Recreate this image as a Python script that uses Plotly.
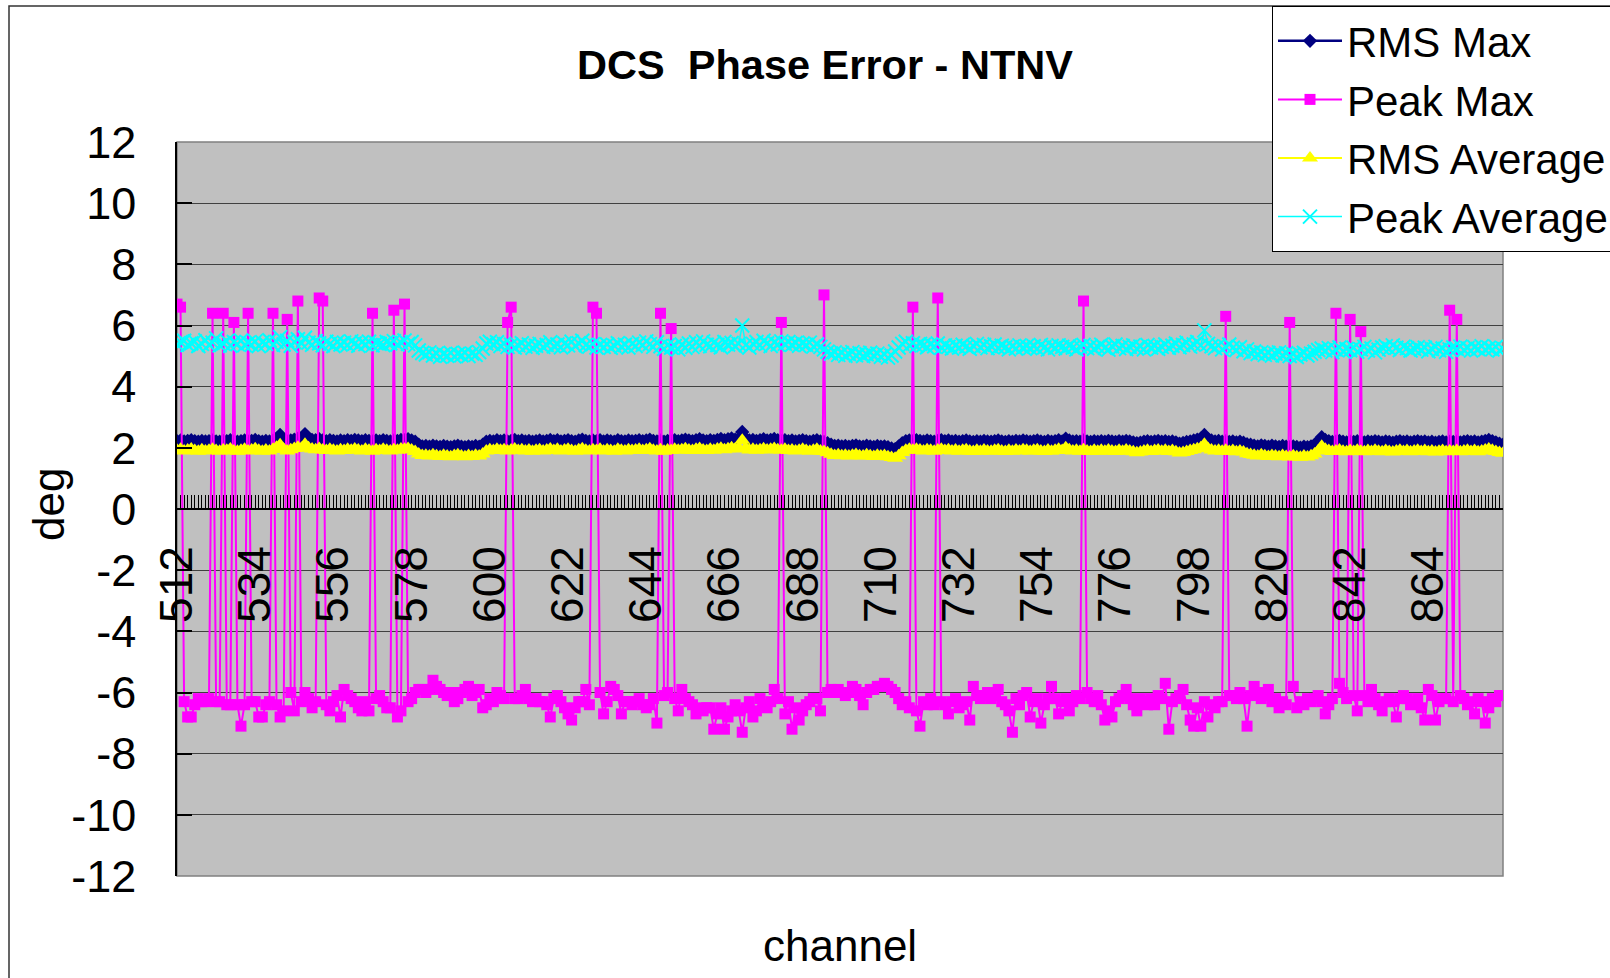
import plotly.graph_objects as go

# ---------------- data ----------------
channels = list(range(512, 886))

rms_max = [
    2.22, 2.24, 2.21, 2.23, 2.25, 2.22, 2.20, 2.23, 2.21, 2.22,
    2.24, 2.21, 2.20, 2.23, 2.22, 2.25, 2.21, 2.20, 2.22, 2.24,
    2.21, 2.23, 2.26, 2.22, 2.20, 2.23, 2.21, 2.24, 2.30, 2.42,
    2.25, 2.21, 2.24, 2.27, 2.30, 2.28, 2.45, 2.30, 2.26, 2.25,
    2.28, 2.24, 2.22, 2.25, 2.23, 2.21, 2.24, 2.22, 2.25, 2.23,
    2.26, 2.24, 2.22, 2.25, 2.23, 2.21, 2.24, 2.22, 2.25, 2.23,
    2.21, 2.24, 2.23, 2.26, 2.25, 2.28, 2.24, 2.20, 2.10, 2.05,
    2.06, 2.04, 2.07, 2.05, 2.03, 2.06, 2.04, 2.02, 2.05, 2.07,
    2.04, 2.02, 2.05, 2.03, 2.06, 2.04, 2.10, 2.20, 2.23, 2.21,
    2.25, 2.22, 2.24, 2.21, 2.23, 2.26, 2.22, 2.24, 2.21, 2.23,
    2.20, 2.22, 2.24, 2.21, 2.23, 2.26, 2.22, 2.25, 2.21, 2.23,
    2.25, 2.22, 2.20, 2.24, 2.27, 2.23, 2.21, 2.24, 2.22, 2.25,
    2.21, 2.24, 2.22, 2.20, 2.25, 2.22, 2.21, 2.24, 2.22, 2.23,
    2.25, 2.22, 2.24, 2.27, 2.23, 2.21, 2.24, 2.20, 2.23, 2.22,
    2.25, 2.22, 2.24, 2.27, 2.24, 2.22, 2.25, 2.28, 2.24, 2.22,
    2.25, 2.23, 2.26, 2.29, 2.25, 2.28, 2.31, 2.27, 2.30, 2.52,
    2.30, 2.24, 2.26, 2.23, 2.25, 2.28, 2.24, 2.26, 2.29, 2.25,
    2.23, 2.25, 2.22, 2.24, 2.21, 2.23, 2.25, 2.22, 2.20, 2.23,
    2.25, 2.21, 2.19, 2.15, 2.10, 2.06, 2.07, 2.05, 2.06, 2.04,
    2.06, 2.08, 2.05, 2.04, 2.07, 2.05, 2.03, 2.06, 2.04, 2.05,
    2.02, 1.98, 1.96, 2.05, 2.15, 2.22, 2.24, 2.22, 2.25, 2.23,
    2.21, 2.24, 2.22, 2.20, 2.23, 2.25, 2.22, 2.24, 2.21, 2.23,
    2.20, 2.22, 2.24, 2.21, 2.19, 2.22, 2.20, 2.23, 2.21, 2.20,
    2.22, 2.24, 2.21, 2.19, 2.22, 2.20, 2.23, 2.21, 2.24, 2.22,
    2.20, 2.22, 2.24, 2.21, 2.19, 2.23, 2.20, 2.22, 2.25, 2.21,
    2.30, 2.24, 2.21, 2.22, 2.20, 2.24, 2.21, 2.19, 2.22, 2.20,
    2.22, 2.20, 2.23, 2.21, 2.19, 2.22, 2.20, 2.23, 2.21, 2.18,
    2.15, 2.17, 2.20, 2.22, 2.19, 2.21, 2.23, 2.20, 2.22, 2.19,
    2.21, 2.18, 2.14, 2.16, 2.19, 2.21, 2.24, 2.27, 2.30, 2.42,
    2.28, 2.24, 2.21, 2.23, 2.20, 2.22, 2.19, 2.21, 2.18, 2.20,
    2.17, 2.12, 2.10, 2.07, 2.05, 2.08, 2.06, 2.04, 2.07, 2.05,
    2.03, 2.06, 2.04, 2.02, 2.05, 2.03, 2.01, 2.04, 2.02, 2.05,
    2.10, 2.20, 2.35, 2.26, 2.22, 2.19, 2.21, 2.23, 2.20, 2.18,
    2.21, 2.19, 2.22, 2.20, 2.18, 2.21, 2.19, 2.22, 2.20, 2.18,
    2.21, 2.19, 2.17, 2.20, 2.22, 2.19, 2.21, 2.18, 2.20, 2.22,
    2.19, 2.21, 2.18, 2.20, 2.17, 2.19, 2.21, 2.18, 2.20, 2.19,
    2.21, 2.18, 2.20, 2.22, 2.19, 2.21, 2.18, 2.20, 2.23, 2.26,
    2.22, 2.18, 2.14, 2.10,
]

peak_max = [
    6.7, 6.6, -6.3, -6.8, -6.8, -6.4, -6.2, -6.3, -6.3, -6.2,
    6.4, -6.3, -6.3, 6.4, -6.4, -6.4, 6.1, -6.4, -7.1, -6.4,
    6.4, -6.3, -6.3, -6.8, -6.8, -6.4, -6.3, 6.4, -6.4, -6.8,
    -6.6, 6.2, -6.0, -6.6, 6.8, -6.3, -6.0, -6.2, -6.5, -6.3,
    6.9, 6.8, -6.4, -6.6, -6.3, -6.1, -6.8, -5.9, -6.1, -6.2,
    -6.3, -6.5, -6.6, -6.3, -6.6, 6.4, -6.2, -6.1, -6.3, -6.5,
    -6.5, 6.5, -6.8, -6.6, 6.7, -6.3, -6.2, -6.0, -5.9, -5.9,
    -6.0, -5.9, -5.6, -5.8, -5.9, -6.0, -6.1, -6.0, -6.3, -6.2,
    -6.0, -5.9, -5.8, -6.1, -6.0, -5.9, -6.5, -6.4, -6.2, -6.3,
    -6.0, -6.1, -6.2, 6.1, 6.6, -6.2, -6.2, -6.1, -5.9, -6.2,
    -6.3, -6.2, -6.3, -6.3, -6.4, -6.8, -6.2, -6.1, -6.3, -6.5,
    -6.7, -6.9, -6.5, -6.3, -6.3, -5.9, -6.4, 6.6, 6.4, -6.0,
    -6.7, -6.3, -5.8, -5.9, -6.1, -6.7, -6.3, -6.3, -6.4, -6.3,
    -6.2, -6.4, -6.5, -6.4, -6.2, -7.0, 6.4, -6.1, -6.0, 5.9,
    -6.2, -6.6, -5.9, -6.2, -6.3, -6.4, -6.7, -6.5, -6.6, -6.5,
    -6.5, -7.2, -6.7, -6.5, -7.2, -6.8, -6.6, -6.4, -6.6, -7.3,
    -6.5, -6.3, -6.8, -6.6, -6.2, -6.4, -6.5, -6.3, -5.9, -6.2,
    6.1, -6.7, -6.3, -7.2, -6.5, -6.9, -6.6, -6.4, -6.3, -6.2,
    -6.2, -6.6, 7.0, -6.0, -5.9, -6.0, -5.9, -6.0, -6.1, -6.0,
    -5.8, -5.9, -6.1, -6.4, -6.0, -5.9, -5.9, -5.8, -5.8, -5.7,
    -5.8, -5.9, -6.0, -6.2, -6.4, -6.3, -6.5, 6.6, -6.6, -7.1,
    -6.3, -6.4, -6.2, -6.4, 6.9, -6.3, -6.4, -6.7, -6.3, -6.2,
    -6.5, -6.4, -6.3, -6.9, -5.8, -6.1, -6.2, -6.1, -6.0, -6.2,
    -6.1, -5.9, -6.3, -6.4, -6.6, -7.3, -6.2, -6.4, -6.1, -6.0,
    -6.8, -6.3, -6.2, -7.0, -6.4, -6.2, -5.8, -6.2, -6.7, -6.3,
    -6.2, -6.6, -6.3, -6.1, -6.2, 6.8, -6.0, -6.2, -6.3, -6.1,
    -6.4, -6.9, -6.6, -6.8, -6.3, -6.2, -6.1, -5.9, -6.2, -6.4,
    -6.6, -6.2, -6.3, -6.4, -6.2, -6.4, -6.1, -6.2, -5.7, -7.2,
    -6.3, -6.2, -6.1, -5.9, -6.4, -6.9, -7.1, -6.5, -7.1, -6.3,
    -6.8, -6.4, -6.5, -6.3, -6.3, 6.3, -6.1, -6.1, -6.2, -6.0,
    -6.2, -7.1, -6.1, -5.8, -6.0, -6.2, -6.1, -5.9, -6.3, -6.2,
    -6.5, -6.3, -6.4, 6.1, -5.8, -6.5, -6.3, -6.4, -6.2, -6.3,
    -6.2, -6.1, -6.3, -6.7, -6.4, -6.2, 6.4, -5.7, -6.0, -6.2,
    6.2, -6.1, -6.6, 5.8, -6.1, -6.3, -5.9, -6.2, -6.4, -6.6,
    -6.3, -6.2, -6.3, -6.8, -6.2, -6.1, -6.2, -6.4, -6.3, -6.2,
    -6.5, -6.9, -5.9, -6.1, -6.9, -6.3, -6.2, -6.2, 6.5, -6.3,
    6.2, -6.1, -6.2, -6.4, -6.3, -6.7, -6.2, -6.3, -7.0, -6.5,
    -6.2, -6.3, -6.1, -6.1,
]

rms_avg = [
    1.92, 1.95, 1.90, 1.93, 1.96, 1.91, 1.89, 1.94, 1.90, 1.92,
    1.95, 1.91, 1.89, 1.93, 1.92, 1.96, 1.90, 1.89, 1.92, 1.95,
    1.90, 1.93, 1.97, 1.92, 1.89, 1.93, 1.90, 1.95, 2.02, 2.10,
    1.95, 1.90, 1.94, 1.98, 2.02, 1.99, 2.12, 2.00, 1.96, 1.94,
    1.98, 1.93, 1.91, 1.95, 1.92, 1.90, 1.94, 1.91, 1.95, 1.92,
    1.96, 1.93, 1.90, 1.95, 1.92, 1.89, 1.94, 1.91, 1.95, 1.92,
    1.90, 1.94, 1.92, 1.96, 1.95, 1.98, 1.93, 1.88, 1.80, 1.75,
    1.76, 1.73, 1.77, 1.74, 1.72, 1.76, 1.73, 1.71, 1.75, 1.77,
    1.73, 1.71, 1.75, 1.72, 1.76, 1.73, 1.80, 1.90, 1.94, 1.91,
    1.95, 1.92, 1.94, 1.90, 1.93, 1.96, 1.91, 1.94, 1.90, 1.93,
    1.89, 1.92, 1.94, 1.90, 1.93, 1.96, 1.91, 1.95, 1.90, 1.93,
    1.95, 1.91, 1.89, 1.94, 1.97, 1.92, 1.90, 1.94, 1.91, 1.95,
    1.90, 1.94, 1.91, 1.89, 1.95, 1.92, 1.90, 1.94, 1.91, 1.93,
    1.95, 1.91, 1.94, 1.97, 1.92, 1.90, 1.94, 1.89, 1.93, 1.91,
    1.95, 1.92, 1.94, 1.97, 1.93, 1.91, 1.95, 1.98, 1.93, 1.91,
    1.95, 1.92, 1.96, 1.99, 1.94, 1.97, 2.00, 1.96, 1.99, 2.25,
    1.99, 1.93, 1.95, 1.92, 1.94, 1.97, 1.93, 1.95, 1.98, 1.94,
    1.92, 1.95, 1.91, 1.93, 1.90, 1.92, 1.95, 1.91, 1.89, 1.92,
    1.95, 1.90, 1.88, 1.84, 1.79, 1.75, 1.77, 1.74, 1.76, 1.73,
    1.76, 1.78, 1.74, 1.73, 1.77, 1.74, 1.72, 1.76, 1.73, 1.75,
    1.71, 1.68, 1.66, 1.74, 1.85, 1.92, 1.95, 1.92, 1.95, 1.93,
    1.90, 1.94, 1.92, 1.89, 1.93, 1.95, 1.91, 1.94, 1.90, 1.93,
    1.89, 1.92, 1.94, 1.90, 1.88, 1.92, 1.89, 1.93, 1.90, 1.89,
    1.92, 1.94, 1.90, 1.88, 1.92, 1.89, 1.93, 1.90, 1.94, 1.92,
    1.89, 1.92, 1.94, 1.90, 1.88, 1.93, 1.89, 1.92, 1.95, 1.91,
    2.00, 1.94, 1.90, 1.92, 1.89, 1.94, 1.90, 1.88, 1.92, 1.89,
    1.92, 1.89, 1.93, 1.90, 1.88, 1.92, 1.89, 1.93, 1.90, 1.87,
    1.84, 1.86, 1.90, 1.92, 1.88, 1.91, 1.93, 1.89, 1.92, 1.88,
    1.91, 1.87, 1.83, 1.85, 1.88, 1.91, 1.94, 1.97, 2.00, 2.12,
    1.98, 1.93, 1.90, 1.92, 1.89, 1.92, 1.88, 1.91, 1.87, 1.90,
    1.86, 1.81, 1.78, 1.76, 1.73, 1.77, 1.74, 1.72, 1.75, 1.73,
    1.71, 1.75, 1.72, 1.70, 1.74, 1.71, 1.69, 1.73, 1.70, 1.74,
    1.80, 1.90, 2.05, 1.95, 1.91, 1.88, 1.90, 1.93, 1.89, 1.87,
    1.91, 1.88, 1.92, 1.89, 1.87, 1.91, 1.88, 1.92, 1.89, 1.87,
    1.91, 1.88, 1.86, 1.90, 1.92, 1.88, 1.91, 1.87, 1.90, 1.92,
    1.88, 1.91, 1.87, 1.90, 1.86, 1.89, 1.91, 1.87, 1.90, 1.88,
    1.91, 1.87, 1.90, 1.92, 1.88, 1.91, 1.87, 1.90, 1.93, 1.96,
    1.92, 1.88, 1.85, 1.82,
]

peak_avg = [
    5.38, 5.45, 5.50, 5.36, 5.42, 5.48, 5.33, 5.40, 5.52, 5.37,
    5.44, 5.58, 5.35, 5.41, 5.49, 5.34, 5.46, 5.39, 5.51, 5.36,
    5.43, 5.37, 5.48, 5.33, 5.45, 5.40, 5.52, 5.36, 5.47, 5.62,
    5.38, 5.50, 5.34, 5.46, 5.55, 5.41, 5.60, 5.44, 5.37, 5.49,
    5.42, 5.35, 5.47, 5.40, 5.33, 5.46, 5.38, 5.44, 5.36, 5.48,
    5.41, 5.34, 5.45, 5.39, 5.47, 5.35, 5.43, 5.40, 5.36, 5.46,
    5.42, 5.49, 5.38, 5.44, 5.51, 5.40, 5.46, 5.35, 5.18, 5.10,
    5.05, 5.12, 5.02, 5.08, 4.98, 5.06, 5.01, 5.10, 4.99, 5.07,
    5.03, 5.11, 5.00, 5.08, 5.04, 5.13, 5.25, 5.41, 5.47, 5.39,
    5.45, 5.33, 5.40, 5.30, 5.37, 5.28, 5.35, 5.42, 5.31, 5.38,
    5.27, 5.34, 5.40, 5.30, 5.36, 5.45, 5.32, 5.38, 5.29, 5.41,
    5.35, 5.47, 5.33, 5.42, 5.50, 5.36, 5.31, 5.39, 5.28, 5.36,
    5.30, 5.38, 5.27, 5.34, 5.42, 5.31, 5.37, 5.28, 5.40, 5.33,
    5.44, 5.36, 5.48, 5.39, 5.30, 5.45, 5.32, 5.24, 5.35, 5.28,
    5.33, 5.22, 5.38, 5.27, 5.41, 5.30, 5.45, 5.34, 5.48, 5.37,
    5.32, 5.44, 5.36, 5.29, 5.46, 5.38, 5.43, 5.33, 5.40, 6.00,
    5.36, 5.28, 5.40, 5.46, 5.35, 5.50, 5.42, 5.33, 5.45, 5.38,
    5.48, 5.40, 5.46, 5.37, 5.43, 5.34, 5.41, 5.36, 5.44, 5.31,
    5.38, 5.30, 5.22, 5.14, 5.08, 5.12, 5.04, 5.10, 5.01, 5.07,
    5.13, 5.03, 5.09, 5.00, 5.06, 5.11, 5.02, 5.08, 4.98, 5.05,
    4.95, 5.02, 5.15, 5.28, 5.40, 5.47, 5.35, 5.42, 5.33, 5.40,
    5.36, 5.29, 5.38, 5.32, 5.41, 5.27, 5.35, 5.30, 5.25, 5.34,
    5.28, 5.37, 5.31, 5.24, 5.33, 5.40, 5.29, 5.36, 5.26, 5.32,
    5.38, 5.27, 5.34, 5.29, 5.22, 5.31, 5.25, 5.35, 5.28, 5.33,
    5.26, 5.32, 5.24, 5.36, 5.29, 5.22, 5.33, 5.27, 5.35, 5.30,
    5.25, 5.34, 5.28, 5.22, 5.31, 5.36, 5.26, 5.33, 5.24, 5.30,
    5.37, 5.27, 5.21, 5.32, 5.38, 5.26, 5.33, 5.23, 5.30, 5.35,
    5.25, 5.31, 5.22, 5.36, 5.28, 5.33, 5.24, 5.30, 5.38, 5.27,
    5.34, 5.41, 5.29, 5.36, 5.44, 5.31, 5.38, 5.46, 5.35, 5.84,
    5.40, 5.32, 5.26, 5.35, 5.22, 5.30, 5.38, 5.27, 5.20, 5.29,
    5.16, 5.22, 5.10, 5.15, 5.07, 5.12, 5.04, 5.10, 5.02, 5.08,
    5.12, 5.03, 5.09, 5.00, 5.06, 4.97, 5.05, 5.11, 5.02, 5.08,
    5.14, 5.20, 5.25, 5.18, 5.26, 5.13, 5.21, 5.28, 5.16, 5.23,
    5.19, 5.27, 5.14, 5.22, 5.30, 5.18, 5.25, 5.12, 5.21, 5.28,
    5.32, 5.24, 5.35, 5.27, 5.20, 5.31, 5.26, 5.18, 5.24, 5.29,
    5.21, 5.27, 5.16, 5.23, 5.30, 5.19, 5.25, 5.14, 5.22, 5.28,
    5.24, 5.31, 5.20, 5.26, 5.18, 5.29, 5.23, 5.32, 5.21, 5.27,
    5.22, 5.30, 5.18, 5.25,
]

series_names = ["RMS Max", "Peak Max", "RMS Average", "Peak Average"]
y_ticks = [12, 10, 8, 6, 4, 2, 0, -2, -4, -6, -8, -10, -12]
label_step = 22

# ---------------- figure ----------------
W, H = 1610, 978
L, R, T, B = 177, 1503, 142, 876
FONT = "Liberation Sans, Arial, sans-serif"

def px_x(px):
    return (px - L) / (R - L)

def px_y(py):
    return (B - py) / (B - T)

fig = go.Figure()

styles = [
    dict(color="#000080", symbol="diamond", size=11, lw=2.5),
    dict(color="#FF00FF", symbol="square", size=11, lw=2),
    dict(color="#FFFF00", symbol="triangle-up", size=14, lw=2),
    dict(color="#00FFFF", symbol="x-thin", size=14, lw=1.5),
]
for name, vals, st in zip(series_names, [rms_max, peak_max, rms_avg, peak_avg], styles):
    marker = dict(symbol=st["symbol"], size=st["size"], color=st["color"])
    if st["symbol"] == "x-thin":
        marker["line"] = dict(color=st["color"], width=2)
    else:
        marker["line"] = dict(width=0)
    fig.add_trace(go.Scatter(
        x=channels, y=vals, name=name, mode="lines+markers",
        line=dict(color=st["color"], width=st["lw"]),
        marker=marker, legendgroup=name,
    ))

fig.update_layout(
    width=W, height=H,
    margin=dict(l=L, r=W - R, t=T, b=H - B, pad=0, autoexpand=False),
    paper_bgcolor="white",
    plot_bgcolor="#C0C0C0",
    font=dict(family=FONT, color="black"),
    title=dict(text="<b>DCS\u00a0 Phase Error - NTNV</b>", x=825 / W, xanchor="center",
               y=1 - 64 / H, yanchor="middle", font=dict(size=41.5, family=FONT, color="black")),
    showlegend=True,
    legend=dict(xref="container", yref="container", x=1272 / W, y=1 - 6 / H,
                xanchor="left", yanchor="top",
                bgcolor="white", bordercolor="black", borderwidth=1,
                font=dict(size=42, family=FONT, color="black"),
                tracegroupgap=1, itemwidth=64),
    xaxis=dict(
        range=[channels[0], channels[-1]],
        anchor="free", position=0.5,
        tickmode="linear", tick0=channels[0], dtick=label_step,
        ticks="inside", ticklen=13, tickcolor="black", tickwidth=1,
        tickangle=-90, tickfont=dict(size=46, family=FONT, color="black"),
        ticklabelstandoff=18,
        showline=True, linecolor="black", linewidth=1.5,
        showgrid=False, zeroline=False,
        minor=dict(tickmode="linear", tick0=channels[0], dtick=1, ticks="inside",
                   ticklen=13, tickcolor="black", tickwidth=1, showgrid=False),
    ),
    yaxis=dict(
        range=[-12, 12], tickmode="array", tickvals=y_ticks,
        ticktext=[str(v) for v in y_ticks],
        ticks="inside", ticklen=15, tickcolor="black", tickwidth=1.5,
        tickfont=dict(size=45, family=FONT, color="black"),
        ticklabelstandoff=30,
        showline=True, linecolor="black", linewidth=1.5,
        showgrid=True, gridcolor="#404040", gridwidth=1,
        zeroline=False,
    ),
    shapes=[
        dict(type="rect", xref="paper", yref="paper", x0=0, x1=1, y0=0, y1=1,
             line=dict(color="#808080", width=1.5), layer="below"),
        dict(type="rect", xref="paper", yref="paper",
             x0=px_x(9), x1=px_x(1620), y0=px_y(6), y1=px_y(990),
             line=dict(color="#333333", width=1.5), layer="below"),
    ],
    annotations=[
        dict(text="deg", xref="paper", yref="paper", x=px_x(48), y=px_y(505),
             textangle=-90, showarrow=False, font=dict(size=44, family=FONT, color="black"),
             xanchor="center", yanchor="middle"),
        dict(text="channel", xref="paper", yref="paper", x=px_x(840), y=px_y(945),
             showarrow=False, font=dict(size=44, family=FONT, color="black"),
             xanchor="center", yanchor="middle"),
    ],
)

fig.write_html("out.html")
